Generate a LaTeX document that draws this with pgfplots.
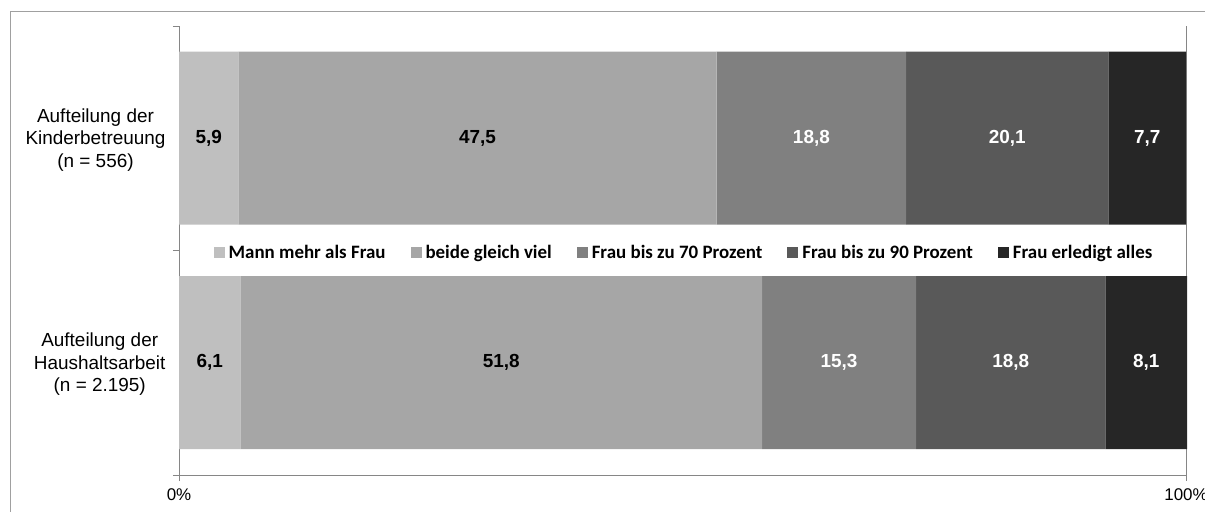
\documentclass[border=0pt]{standalone}
\usepackage{pgfplots}
\pgfplotsset{compat=1.18}
\usepackage{fontspec}
\setmainfont{Liberation Sans}
\newfontfamily\carlito{Carlito}
\definecolor{c1}{HTML}{BFBFBF}
\definecolor{c2}{HTML}{A6A6A6}
\definecolor{c3}{HTML}{808080}
\definecolor{c4}{HTML}{595959}
\definecolor{c5}{HTML}{262626}
\definecolor{axisgray}{HTML}{868686}
\definecolor{framegray}{HTML}{A0A0A0}
\begin{document}
\begin{tikzpicture}
\begin{axis}[
  at={(179bp,37bp)}, anchor=south west,
  scale only axis, width=1007bp, height=449bp,
  xbar stacked, bar width=173bp,
  xmin=0, xmax=100, ymin=0, ymax=2, clip=false,
  axis x line=bottom, axis y line=left,
  axis line style={draw=axisgray, line width=0.8bp, -},
  every tick/.style={draw=axisgray, line width=0.8bp},
  tick align=outside, major tick length=6bp,
  xtick={0,100}, xticklabels={0\%,100\%},
  xticklabel style={font=\fontsize{17}{20}\selectfont, yshift=-4bp},
  xmajorgrids, major grid style={draw=axisgray, line width=0.8bp},
  ytick={0,1,2}, yticklabels={,,},
  extra y ticks={0.5,1.5},
  extra y tick labels={{Aufteilung der\\Haushaltsarbeit\\(n = 2.195)},{Aufteilung der\\Kinderbetreuung\\(n = 556)}},
  extra y tick style={major tick length=0pt, grid=none},
  yticklabel style={align=center, font=\fontsize{19}{22.5}\selectfont, xshift=-10bp, yshift=-1.5bp},
  legend style={at={(0.5,0.5)}, anchor=center, xshift=2.5bp, yshift=-2bp, draw=none, fill=none,
    font=\carlito\bfseries\fontsize{19}{21}\selectfont,
    nodes={inner xsep=4bp, inner ysep=2bp},
    /tikz/every even column/.append style={column sep=21bp}},
  legend columns=-1,
  legend image code/.code={\path[#1] (0bp,-5.5bp) rectangle (11bp,5.5bp);},
  visualization depends on={\thisrow{v} \as \rawv},
  nodes near coords={\pgfmathprintnumber[fixed,fixed zerofill,precision=1,use comma,assume math mode=true]{\rawv}},
  every node near coord/.append style={anchor=center, font=\bfseries\fontsize{19}{22}\selectfont},
]
\addplot[fill=c1, draw=none, nodes near coords style={text=black}] table[x=v, y=y, row sep=\\] {y v\\ 0.5 6.1\\ 1.5 5.9\\};
\addplot[fill=c2, draw=none, nodes near coords style={text=black}] table[x=v, y=y, row sep=\\] {y v\\ 0.5 51.8\\ 1.5 47.5\\};
\addplot[fill=c3, draw=none, nodes near coords style={text=white}] table[x=v, y=y, row sep=\\] {y v\\ 0.5 15.3\\ 1.5 18.8\\};
\addplot[fill=c4, draw=none, nodes near coords style={text=white}] table[x=v, y=y, row sep=\\] {y v\\ 0.5 18.8\\ 1.5 20.1\\};
\addplot[fill=c5, draw=none, nodes near coords style={text=white}] table[x=v, y=y, row sep=\\] {y v\\ 0.5 8.1\\ 1.5 7.7\\};
\legend{Mann mehr als Frau, beide gleich viel, Frau bis zu 70 Prozent, Frau bis zu 90 Prozent, Frau erledigt alles}
\end{axis}
\draw[framegray, line width=1bp] (10.5bp,-5bp) |- (1215bp,500.5bp);
\pgfresetboundingbox
\useasboundingbox (0,0) rectangle (1205bp,512bp);
\end{tikzpicture}
\end{document}
